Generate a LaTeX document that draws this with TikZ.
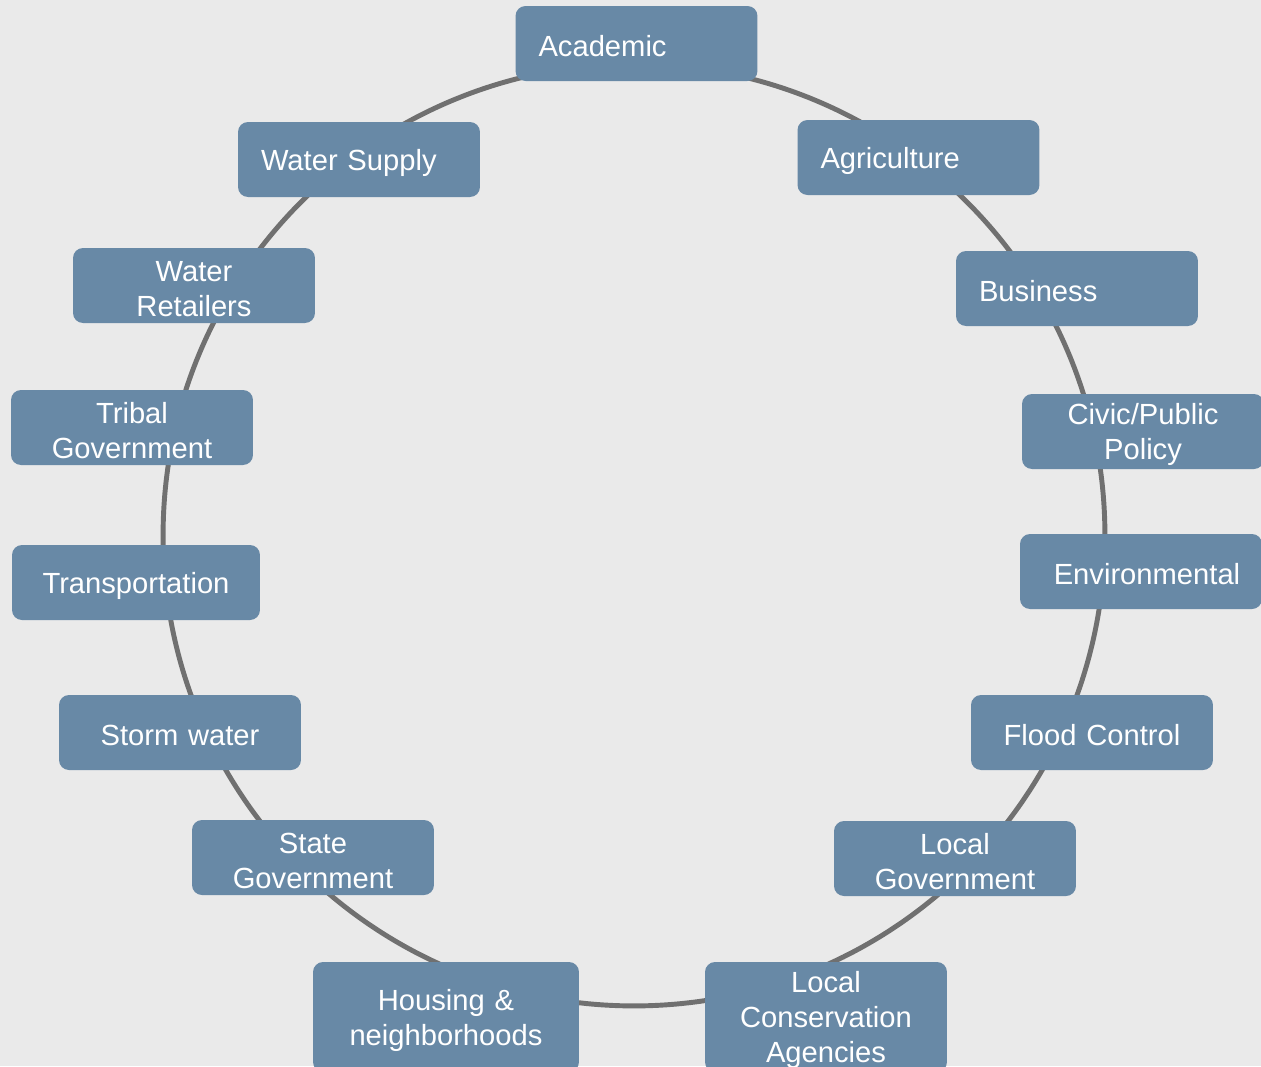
\documentclass[tikz,border=0pt]{standalone}
\usepackage{fontspec}
\setmainfont{Liberation Sans}
\usetikzlibrary{positioning}

\definecolor{bgback}{RGB}{234,234,234}
\definecolor{boxblue}{RGB}{104,137,166}
\definecolor{ringgray}{RGB}{112,112,112}

\tikzset{
	group/.style={rectangle, rounded corners=0.2cm, fill=boxblue, text=white,
		minimum width=4.84cm, minimum height=1.5cm, inner xsep=0.46cm, inner ysep=0cm,
		text width=3.92cm, align=center, text height=15.5pt,
		font=\fontsize{16.6}{19.9}\selectfont},
	leftgroup/.style={group, align=left},
	tallgroup/.style={group, minimum height=2.2cm}
}

\begin{document}
\begin{tikzpicture}[x=0.02cm, y=-0.02cm]
	\fill[bgback] (0,0) rectangle (1261,1066);
	\useasboundingbox (0,0) rectangle (1261,1066);
	\clip (0,0) rectangle (1261,1066);

	% the ring behind the groups
	\coordinate (mid) at (634,535);
	\draw[ringgray, line width=2.8pt] (mid) circle (9.42cm);

	\node[leftgroup] (academic) at (636.5,43.5) {Academic};
	\node[leftgroup] (agri) at (918.5,157.5) {Agriculture};
	\node[leftgroup] (business) at (1077,288.5) {Business};
	\node[group] (civic) at (1143,431.5) {Civic/Public\\Policy};
	\node[group, inner xsep=0.42cm, text width=4cm] (env) at (1141,571.5) {\hspace*{0.24cm}Environmental};
	\node[group] (flood) at (1092,732.5) {Flood Control};
	\node[group] (localgov) at (955,858.5) {Local\\Government};
	\node[tallgroup] (localcons) at (826,1017) {Local\\Conservation\\Agencies};
	\node[tallgroup, minimum width=5.32cm, text width=4.4cm] (housing) at (446,1017) {Housing \&\\neighborhoods};
	\node[group] (state) at (313,857.5) {State\\Government};
	\node[group] (storm) at (180,732.5) {Storm water};
	\node[group, minimum width=4.96cm, text width=4.04cm] (transport) at (136,582.5) {Transportation};
	\node[group] (tribal) at (132,427.5) {Tribal\\Government};
	\node[group] (retailers) at (194,285.5) {Water\\Retailers};
	\node[leftgroup] (supply) at (359,159.5) {Water Supply};
\end{tikzpicture}
\end{document}
